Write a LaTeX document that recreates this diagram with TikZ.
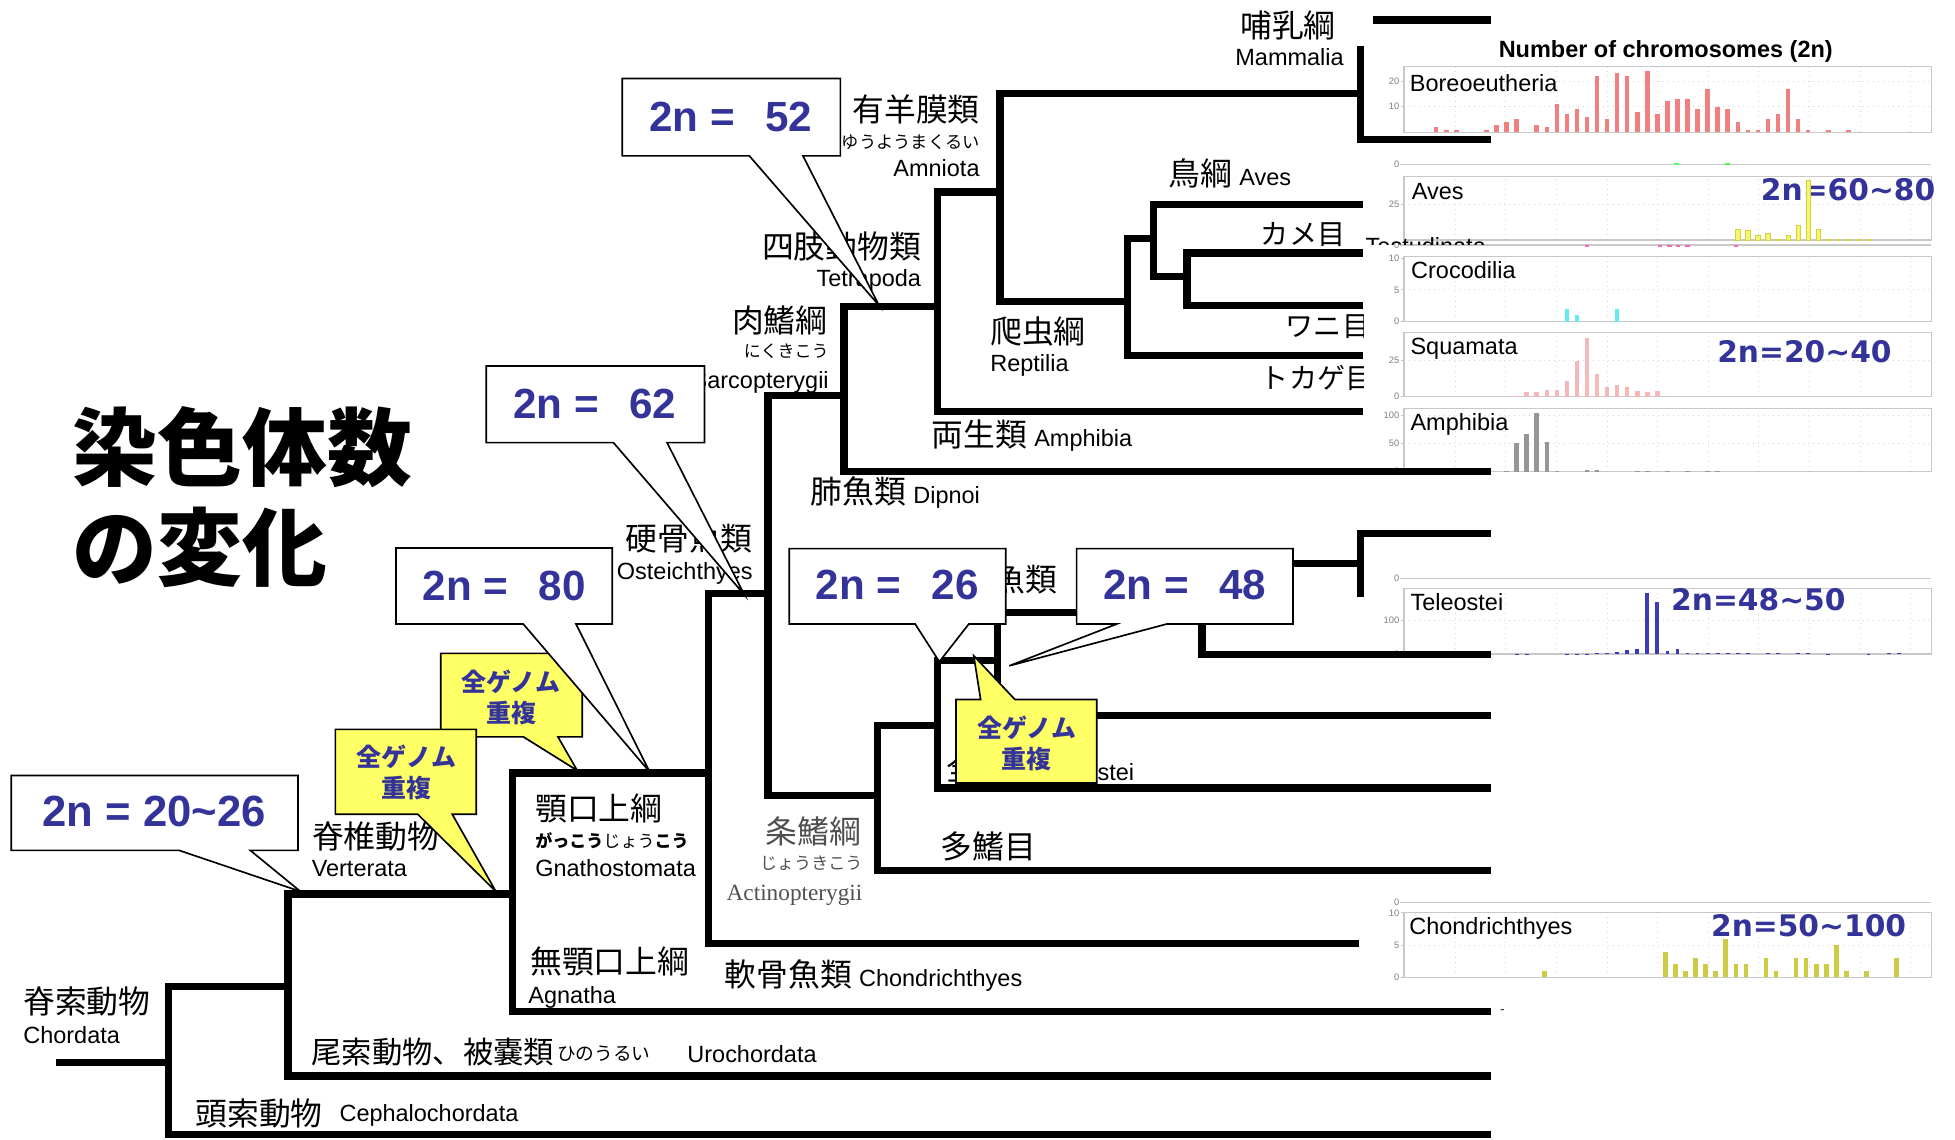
\documentclass[tikz,border=0pt]{standalone}
\usepackage{fontspec}
\setmainfont{Liberation Sans}
\newfontfamily\jp{Noto Sans CJK JP}
\newfontfamily\dvs{DejaVu Sans}
\newfontfamily\serifen{Liberation Serif}
\definecolor{nblue}{RGB}{51,51,153}
\definecolor{cyel}{RGB}{255,255,102}
\definecolor{borc}{RGB}{240,128,128}
\definecolor{avesc}{RGB}{245,245,110}
\definecolor{avese}{RGB}{210,210,60}
\definecolor{crocc}{RGB}{100,235,235}
\definecolor{squc}{RGB}{244,184,184}
\definecolor{amphc}{RGB}{150,150,150}
\definecolor{telc}{RGB}{60,60,180}
\definecolor{chonc}{RGB}{204,204,68}
\definecolor{panelc}{RGB}{200,200,200}
\definecolor{gridc}{RGB}{215,215,215}
\definecolor{actc}{RGB}{80,80,80}
\newcommand\entxt[1]{{\normalfont\fontsize{11.3}{13}\selectfont #1}}
\tikzset{
  tree/.style={line width=3.5pt, line join=miter, line cap=butt},
  jl/.style={font=\jp\fontsize{15.3}{18}\selectfont, inner sep=0pt},
  jk/.style={font=\jp\fontsize{13.5}{16}\selectfont, inner sep=0pt},
  el/.style={font=\fontsize{11.3}{13}\selectfont, inner sep=0pt, text depth=0pt},
  kana/.style={font=\jp\fontsize{8.2}{10}\selectfont, inner sep=0pt},
  ttl/.style={font=\jp\bfseries\fontsize{40.8}{48}\selectfont, inner sep=0pt},
  num/.style={font=\bfseries\fontsize{20.3}{24}\selectfont, text=nblue, inner sep=0pt, text depth=0pt},
  callw/.style={fill=white, draw=black, line width=0.8pt, line join=miter},
  cally/.style={fill=cyel, draw=black, line width=0.8pt, line join=miter},
  ytxt/.style={font=\jp\bfseries\fontsize{12}{15}\selectfont, text=nblue, align=center, inner sep=0pt},
  rng/.style={font=\dvs\bfseries\fontsize{14.3}{17}\selectfont, text=nblue, inner sep=0pt, anchor=west, text depth=0pt},
  plab/.style={font=\fontsize{11.3}{13}\selectfont, inner sep=0pt, anchor=west, text depth=0pt},
  axl/.style={font=\fontsize{4.5}{5}\selectfont, text=gray, inner sep=0pt, anchor=east},
  pbox/.style={draw=panelc, line width=0.6pt},
  pgrid/.style={draw=gridc, line width=0.4pt, dotted},
}
\newcommand\hpanel[5]{%
  \begin{scope}[shift={(1091,#1)},xscale=0.3043,yscale=-#2]
    \foreach \d in {250,383,517,650,783,917,1050,1183,1317,1450}{\draw[pgrid] (\d,0) -- (\d,#3);}
    \foreach \v in {#4}{\draw[pgrid] (115,\v) -- (1505,\v);}
    \draw[pbox] (115,0) rectangle (1505,#3);
    \foreach \v in {#5}{\draw[panelc,line width=0.4pt] (107,\v) -- (115,\v); \node[axl] at (104,\v) {\v};}
  \end{scope}}
\newcommand\hbars[5]{%
  \begin{scope}[shift={(1091,#1)},xscale=0.3043,yscale=-#2]
    \foreach \k/\v in {#5}{\fill[#3] ({200+26.5*\k-#4},0) rectangle ({200+26.5*\k+#4},\v);}
  \end{scope}}
\begin{document}
\begin{tikzpicture}[x=0.6pt, y=-0.6pt]
\useasboundingbox (0,0) rectangle (1568,914);
\fill[white] (0,0) rectangle (1568,914);

% ---------- tree coordinates ----------
\coordinate (root0) at (45,852);
\coordinate (chordata) at (135,852);
\coordinate (olf) at (231,791);
\coordinate (cepha) at (1196,910);
\coordinate (vert) at (411,717);
\coordinate (uro) at (1196,863);
\coordinate (gnath) at (568,620);
\coordinate (agn) at (1196,811);
\coordinate (oste) at (616,476);
\coordinate (chon) at (1090,757);
\coordinate (sarc) at (677,317);
\coordinate (acti) at (704,638);
\coordinate (tetra) at (752,246);
\coordinate (dipn) at (1196,378);
\coordinate (amnio) at (802,154);
\coordinate (amph) at (1093,330);
\coordinate (mamm) at (1091,75);
\coordinate (mamV) at (1091,37);
\coordinate (mamBot) at (1196,112);
\coordinate (mamTopA) at (1101,16);
\coordinate (mamTop) at (1196,16);
\coordinate (rept) at (904,242);
\coordinate (r1) at (925,191);
\coordinate (squam) at (1093,285);
\coordinate (aves) at (1093,164);
\coordinate (r2) at (952,222);
\coordinate (test) at (1093,203);
\coordinate (croc) at (1093,245);
\coordinate (neo) at (752,582);
\coordinate (poly) at (1196,698);
\coordinate (n1) at (800,530);
\coordinate (holo) at (1196,632);
\coordinate (tel) at (964,491);
\coordinate (n1b) at (1196,574);
\coordinate (t1) at (1091,452);
\coordinate (t2) at (1196,525);
\coordinate (t1top) at (1196,428);
\coordinate (t1end) at (1091,479);

% ---------- labels ----------
\node[ttl, anchor=west] (tA) at (58,359) {染色体数};
\node[ttl, anchor=west] (tB) at (58,439) {の変化};

\node[jl, anchor=west] (lMamJ) at (994.5,20) {哺乳綱};
\node[el, anchor=west] (lMamE) at (990.5,45.5) {Mammalia};
\node[jl, anchor=east] (lAmnJ) at (786,88) {有羊膜類};
\node[kana, anchor=east, font=\jp\fontsize{8.3}{10}\selectfont] (lAmnK) at (786,113.6) {ゆうようまくるい};
\node[el, anchor=east] (lAmnE) at (786,135) {Amniota};
\node[jl, anchor=west] (lAves) at (937,139) {鳥綱 \entxt{Aves}};
\node[jk, anchor=west] (lTest) at (1011,188) {カメ目};
\node[jl, anchor=east] (lTetJ) at (739,198) {四肢動物類};
\node[el, anchor=east] (lTetE) at (739,223) {Tetrapoda};
\node[jl, anchor=east] (lSarJ) at (664,256.7) {肉鰭綱};
\node[kana, anchor=east] (lSarK) at (665,282) {にくきこう};
\node[el, anchor=east] (lSarE) at (665,305) {Sarcopterygii};
\node[jk, anchor=west] (lCroc) at (1031,262) {ワニ目};
\node[jl, anchor=west] (lRepJ) at (794,266) {爬虫綱};
\node[el, anchor=west] (lRepE) at (794,291) {Reptilia};
\node[jk, anchor=west] (lSqu) at (1011,303) {トカゲ目};
\node[jl, anchor=west] (lAmph) at (747,349) {両生類 \entxt{Amphibia}};
\node[jl, anchor=west] (lDip) at (650,395) {肺魚類 \entxt{Dipnoi}};
\node[jl, anchor=east] (lOstJ) at (604,431.8) {硬骨魚類};
\node[el, anchor=east] (lOstE) at (604,457.7) {Osteichthyes};
\node[jl, anchor=east] (lTel) at (848,465) {真骨魚類};
\node[jl, anchor=west] (lHol) at (759,616) {全骨類 \entxt{Holostei}};
\node[jl, anchor=west] (lPoly) at (754,679) {多鰭目};
\node[jl, anchor=east, text=actc] (lActJ) at (691,667) {条鰭綱};
\node[kana, anchor=east, text=actc] (lActK) at (692,692) {じょうきこう};
\node[anchor=east, font=\serifen\fontsize{11.2}{13}\selectfont, text=actc, inner sep=0pt, text depth=0pt] (lActE) at (692,716) {Actinopterygii};
\node[jl, anchor=west] (lGnaJ) at (429,648) {顎口上綱};
\node[kana, anchor=west] (lGnaK) at (429,674) {{\bfseries がっこう}じょう{\bfseries こう}};
\node[el, anchor=west] (lGnaE) at (429,696.5) {Gnathostomata};
\node[jl, anchor=west] (lAgnJ) at (425,771) {無顎口上綱};
\node[el, anchor=west] (lAgnE) at (423.5,798) {Agnatha};
\node[jl, anchor=west] (lChon) at (581,782) {軟骨魚類 \entxt{Chondrichthyes}};
\node[jl, anchor=west] (lVerJ) at (250,671) {脊椎動物};
\node[el, anchor=west] (lVerE) at (249.7,696.5) {Verterata};
\node[jl, anchor=west] (lChoJ) at (18.4,803.4) {脊索動物};
\node[el, anchor=west] (lChoE) at (18.4,830) {Chordata};
\node[jl, anchor=west, font=\jp\fontsize{14.6}{17}\selectfont] (lUroJ) at (249.6,843.5) {尾索動物、被嚢類};
\node[kana, anchor=west, font=\jp\fontsize{9}{11}\selectfont] (lUroK) at (446.5,845) {ひのうるい};
\node[el, anchor=west] (lUroE) at (551,845) {Urochordata};
\node[jl, anchor=west] (lCepJ) at (156.5,892.7) {頭索動物};
\node[el, anchor=west] (lCepE) at (272,893) {Cephalochordata};
\node[inner sep=0pt, font=\fontsize{6}{7}\selectfont] (agdash) at (1205,811) {-};

% ---------- chart panels ----------
\fill[white] (1094,120) rectangle (1560,375);
\node[font=\bfseries\fontsize{11.3}{13}\selectfont, inner sep=0pt, text depth=0pt] (ptitle) at (1336,39) {Number of chromosomes (2n)};

\hpanel{106}{2.05}{25.6}{10,20}{10,20}
\hpanel{192.5}{1.156}{43.9}{25}{25}
\hpanel{258}{5.1}{10.2}{5}{0,5,10}
\hpanel{318.2}{1.156}{44.5}{25}{0,25}
\hpanel{378.3}{0.454}{111.9}{50,100}{0,50,100}
\hpanel{524.6}{0.273}{193}{100}{0,100}
\hpanel{783.9}{5.18}{10.08}{5}{0,5,10}

\foreach \yy in {132,196.5,463.9,724}{
  \draw[panelc, line width=0.5pt] (1123,\yy) -- (1549,\yy);
  \node[axl] at (1122.6,\yy) {0};
}
\fill[green!70] (1343,131) rectangle (1347,132.5);
\fill[green!70] (1383.6,131) rectangle (1387.6,132.5);
\foreach \xx in {1273,1331.4,1339,1346,1353.3,1392.3}{\fill[magenta!60] (\xx-1.8,196.5) rectangle (\xx+1.8,198);}

\begin{scope}
  \clip (1090,189) rectangle (1200,195.8);
  \node[plab] (pTes) at (1095,197.5) {Testudinata};
\end{scope}

\node[plab] (pBor) at (1130.5,66.8) {Boreoeutheria};
\node[plab] (pAve) at (1132,153.7) {Aves};
\node[plab] (pCro) at (1131.5,216.6) {Crocodilia};
\node[plab] (pSqu) at (1131,277.5) {Squamata};
\node[plab] (pAmp) at (1131,338.2) {Amphibia};
\node[plab] (pTel) at (1131,482.6) {Teleostei};
\node[plab] (pCho) at (1130,742.7) {Chondrichthyes};

\node[rng] (rAve) at (1412,152) {2n=60{\char"7E}80};
\node[rng] (rSqu) at (1377,282) {2n=20{\char"7E}40};
\node[rng] (rTel) at (1340,481) {2n=48{\char"7E}50};
\node[rng] (rCho) at (1372,742) {2n=50{\char"7E}100};

\hbars{106}{2.05}{borc}{6}{0/2,1/1,2/1,5/1,6/3,7/4,8/5,10/3,11/2,12/11,13/7,14/9,15/6,16/22,17/5,18/23,19/22,20/8,21/24,22/7,23/12,24/13,25/13,26/9,27/17,28/10,29/9,30/4,31/1,32/1,33/5,34/7,35/17,36/5,37/1,39/1,41/1}
\hbars{192.5}{1.156}{fill=avesc,draw=avese,line width=0.3pt}{6}{30/7.4,31/7,32/3,33/5,34/0.6,35/3.2,36/10.4,37/41.7,38/7.4,39/0.4,40/0.4,41/0.4,42/0.4,43/0.4}
\hbars{258}{5.1}{crocc}{5}{13/2,14/1,18/2}
\hbars{318.2}{1.156}{squc}{6}{8/0.6,9/3,10/3,11/5,12/5,13/11,14/25,15/41,16/16,17/7,18/8,19/7,20/4,21/3,22/4}
\hbars{378.3}{0.454}{amphc}{6}{7/1.5,8/50,9/66,10/104,11/53,12/1.5,15/3,16/3,20/1.5,21/2,23/1.5,25/1.5,27/1.5,28/1.5}
\hbars{524.6}{0.273}{telc}{5}{8/1.5,9/1.5,13/1.5,14/1.5,15/1.5,16/3,17/3,18/7,19/12,20/14,21/180,22/154,23/10,24/15,25/4,26/2.5,27/2.5,28/2,29/2,30/2,31/2,33/2,34/2,36/2,37/3,39/1.5,43/1.5,45/2,46/2}
\hbars{783.9}{5.18}{chonc}{6}{10.8/1,22.8/4,23.8/2,24.8/1,25.8/3,26.8/2,27.8/1,28.8/6,29.8/2,30.8/2,32.8/3,33.8/1,35.8/3,36.8/3,37.8/2,38.8/2,39.8/5,40.8/1,42.8/1,45.8/3}

% ---------- tree lines ----------
\draw[tree] (root0) -- (chordata);
\draw[tree] (olf) -| (chordata) |- (cepha);
\draw[tree] (vert) -| (olf) |- (uro);
\draw[tree] (gnath) -| (vert) |- (agn);
\draw[tree] (oste) -| (gnath) |- (chon);
\draw[tree] (sarc) -| (oste) |- (acti);
\draw[tree] (tetra) -| (sarc) |- (dipn);
\draw[tree] (amnio) -| (tetra) |- (amph);
\draw[tree] (mamm) -| (amnio) |- (rept);
\draw[tree] (mamV) |- (mamBot);
\draw[tree] (mamTopA) -- (mamTop);
\draw[tree] (r1) -| (rept) |- (squam);
\draw[tree] (aves) -| (r1) |- (r2);
\draw[tree] (test) -| (r2) |- (croc);
\draw[tree] (neo) -| (acti) |- (poly);
\draw[tree] (n1) -| (neo) |- (holo);
\draw[tree] (tel) -| (n1) |- (n1b);
\draw[tree] (t1) -| (tel) |- (t2);
\draw[tree] (t1top) -| (t1) -- (t1end);

% ---------- callouts ----------
\draw[cally] (353.5,524) -- (467,524) -- (467,591) -- (447.5,591) -- (463,618) -- (419.8,591) -- (353.5,591) -- cycle;
\node[ytxt] (yB) at (410,559) {全ゲノム\\重複};
\draw[cally] (269,585) -- (382,585) -- (382,653) -- (362.7,653) -- (397.7,715) -- (335,653) -- (269,653) -- cycle;
\node[ytxt] (yA) at (326,619.5) {全ゲノム\\重複};

\draw[callw] (317.6,439.5) -- (491,439.5) -- (491,500.5) -- (462,500.5) -- (521,619) -- (419.7,500.5) -- (317.6,500.5) -- cycle;
\node[num] (c80) at (404.3,469.5) {2n =\hspace{0.72em}80};
\draw[callw] (390,293.5) -- (565,293.5) -- (565,355) -- (535,355) -- (597,477) -- (492,355) -- (390,355) -- cycle;
\node[num] (c62) at (477,323.5) {2n =\hspace{0.72em}62};
\draw[callw] (499,63) -- (674,63) -- (674,125) -- (644,125) -- (705,245) -- (601,125) -- (499,125) -- cycle;
\node[num] (c52) at (586,93.6) {2n =\hspace{0.72em}52};
\draw[callw] (9,622) -- (239,622) -- (239,682) -- (200.7,682) -- (241,715) -- (143.6,682) -- (9,682) -- cycle;
\node[num, font=\bfseries\fontsize{21}{24}\selectfont] (c2026) at (123.5,650.5) {2n = 20{\char"7E}26};
\draw[callw] (633,440) -- (806.6,440) -- (806.6,500.5) -- (777,500.5) -- (753.4,530.7) -- (734,500.5) -- (633,500.5) -- cycle;
\node[num] (c26) at (719.5,469) {2n =\hspace{0.72em}26};
\draw[callw] (863.5,440) -- (1037,440) -- (1037,500.5) -- (935.7,500.5) -- (809.5,534) -- (895.6,500.5) -- (863.5,500.5) -- cycle;
\node[num] (c48) at (950.3,469) {2n =\hspace{0.72em}48};
\draw[cally] (766.8,561) -- (786.5,561) -- (781,526) -- (814,561) -- (879.6,561) -- (879.6,628) -- (766.8,628) -- cycle;
\node[ytxt] (yC) at (823.5,596.5) {全ゲノム\\重複};
\end{tikzpicture}
\end{document}
